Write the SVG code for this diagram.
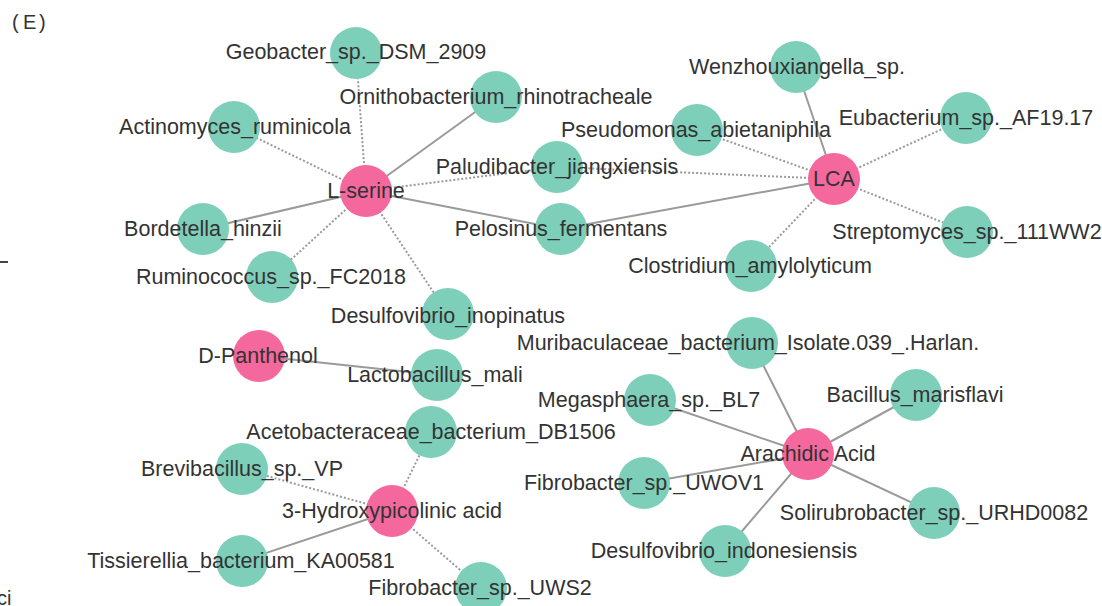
<svg xmlns="http://www.w3.org/2000/svg" width="1102" height="606" viewBox="0 0 1102 606">
<style>
.bg{fill:#ffffff}
.m circle{fill:#f4689d}
.b circle{fill:#7ecfba}
text{font-family:"Liberation Sans",Arial,sans-serif;font-size:21.5px;fill:#333333;text-anchor:middle;dominant-baseline:central}
.s{stroke:#9a9a9a;stroke-width:2;fill:none}
.d{stroke:#9a9a9a;stroke-width:2;stroke-dasharray:2 2;fill:none}
.panel{font-size:20px;text-anchor:start;dominant-baseline:auto}
</style>
<rect class="bg" x="0" y="0" width="1102" height="606"/>
<text class="panel" y="29"><tspan x="12">(</tspan><tspan x="23">E</tspan><tspan x="39">)</tspan></text>
<line x1="0" y1="262" x2="8" y2="262" stroke="#444" stroke-width="2"/>
<text x="-3" y="605" style="font-size:20px;text-anchor:start;dominant-baseline:auto">ci</text>
<g id="edges">
<line class="d" x1="366" y1="191" x2="356" y2="53"/>
<line class="s" x1="366" y1="191" x2="496" y2="97"/>
<line class="d" x1="366" y1="191" x2="234" y2="127"/>
<line class="d" x1="366" y1="191" x2="557" y2="167"/>
<line class="s" x1="366" y1="191" x2="203" y2="229"/>
<line class="s" x1="366" y1="191" x2="561" y2="229"/>
<line class="d" x1="366" y1="191" x2="272" y2="277"/>
<line class="d" x1="366" y1="191" x2="448" y2="314"/>
<line class="s" x1="834" y1="179" x2="796" y2="67"/>
<line class="d" x1="834" y1="179" x2="697" y2="130"/>
<line class="d" x1="834" y1="179" x2="557" y2="167"/>
<line class="s" x1="834" y1="179" x2="561" y2="229"/>
<line class="d" x1="834" y1="179" x2="966" y2="118"/>
<line class="d" x1="834" y1="179" x2="967" y2="232"/>
<line class="d" x1="834" y1="179" x2="751" y2="266"/>
<line class="s" x1="259" y1="356" x2="437" y2="375"/>
<line class="d" x1="392" y1="511" x2="431" y2="432"/>
<line class="d" x1="392" y1="511" x2="242" y2="469"/>
<line class="s" x1="392" y1="511" x2="242" y2="561"/>
<line class="d" x1="392" y1="511" x2="481" y2="588"/>
<line class="s" x1="808" y1="454" x2="752" y2="343"/>
<line class="s" x1="808" y1="454" x2="650" y2="400"/>
<line class="s" x1="808" y1="454" x2="916" y2="395"/>
<line class="s" x1="808" y1="454" x2="644" y2="483"/>
<line class="s" x1="808" y1="454" x2="934" y2="513"/>
<line class="s" x1="808" y1="454" x2="725" y2="551"/>
</g>
<g id="n-geobacter" class="b"><circle cx="356" cy="53" r="26"/><text x="356" y="52">Geobacter_sp._DSM_2909</text></g>
<g id="n-ornitho" class="b"><circle cx="496" cy="97" r="26"/><text x="496" y="97">Ornithobacterium_rhinotracheale</text></g>
<g id="n-actino" class="b"><circle cx="234" cy="127" r="26"/><text x="235" y="127">Actinomyces_ruminicola</text></g>
<g id="n-paludi" class="b"><circle cx="557" cy="167" r="26"/><text x="557" y="167">Paludibacter_jiangxiensis</text></g>
<g id="n-bordetella" class="b"><circle cx="203" cy="229" r="26"/><text x="203" y="229">Bordetella_hinzii</text></g>
<g id="n-pelosinus" class="b"><circle cx="561" cy="229" r="26"/><text x="561" y="229">Pelosinus_fermentans</text></g>
<g id="n-rumino" class="b"><circle cx="272" cy="277" r="26"/><text x="271" y="277">Ruminococcus_sp._FC2018</text></g>
<g id="n-desulfo-ino" class="b"><circle cx="448" cy="314" r="26"/><text x="448" y="316">Desulfovibrio_inopinatus</text></g>
<g id="n-wenzhou" class="b"><circle cx="796" cy="67" r="26"/><text x="797" y="67">Wenzhouxiangella_sp.</text></g>
<g id="n-pseudo" class="b"><circle cx="697" cy="130" r="26"/><text x="696" y="130">Pseudomonas_abietaniphila</text></g>
<g id="n-eubact" class="b"><circle cx="966" cy="118" r="26"/><text x="966" y="118">Eubacterium_sp._AF19.17</text></g>
<g id="n-strepto" class="b"><circle cx="967" cy="232" r="26"/><text x="967" y="232">Streptomyces_sp._111WW2</text></g>
<g id="n-clostri" class="b"><circle cx="751" cy="266" r="26"/><text x="750" y="266">Clostridium_amylolyticum</text></g>
<g id="n-lactob" class="b"><circle cx="437" cy="375" r="26"/><text x="435" y="375">Lactobacillus_mali</text></g>
<g id="n-acetob" class="b"><circle cx="431" cy="432" r="26"/><text x="431" y="432">Acetobacteraceae_bacterium_DB1506</text></g>
<g id="n-brevi" class="b"><circle cx="242" cy="469" r="26"/><text x="242" y="469">Brevibacillus_sp._VP</text></g>
<g id="n-tissier" class="b"><circle cx="242" cy="561" r="26"/><text x="241" y="561">Tissierellia_bacterium_KA00581</text></g>
<g id="n-fibro-uws2" class="b"><circle cx="481" cy="588" r="26"/><text x="480" y="588">Fibrobacter_sp._UWS2</text></g>
<g id="n-muri" class="b"><circle cx="752" cy="343" r="26"/><text x="748" y="343">Muribaculaceae_bacterium_Isolate.039_.Harlan.</text></g>
<g id="n-megas" class="b"><circle cx="650" cy="400" r="26"/><text x="649" y="400">Megasphaera_sp._BL7</text></g>
<g id="n-bacillus" class="b"><circle cx="916" cy="395" r="26"/><text x="915" y="395">Bacillus_marisflavi</text></g>
<g id="n-fibro-uwov1" class="b"><circle cx="644" cy="483" r="26"/><text x="644" y="483">Fibrobacter_sp._UWOV1</text></g>
<g id="n-soliru" class="b"><circle cx="934" cy="513" r="26"/><text x="934" y="513">Solirubrobacter_sp._URHD0082</text></g>
<g id="n-desulfo-indo" class="b"><circle cx="725" cy="551" r="26"/><text x="724" y="551">Desulfovibrio_indonesiensis</text></g>
<g id="n-lserine" class="m"><circle cx="366" cy="191" r="26"/><text x="366" y="191">L-serine</text></g>
<g id="n-lca" class="m"><circle cx="834" cy="179" r="26"/><text x="834" y="179">LCA</text></g>
<g id="n-dpanthenol" class="m"><circle cx="259" cy="356" r="26"/><text x="258" y="356">D-Panthenol</text></g>
<g id="n-3hpa" class="m"><circle cx="392" cy="511" r="26"/><text x="392" y="511">3-Hydroxypicolinic acid</text></g>
<g id="n-arachidic" class="m"><circle cx="808" cy="454" r="26"/><text x="808" y="454">Arachidic Acid</text></g>
</svg>
